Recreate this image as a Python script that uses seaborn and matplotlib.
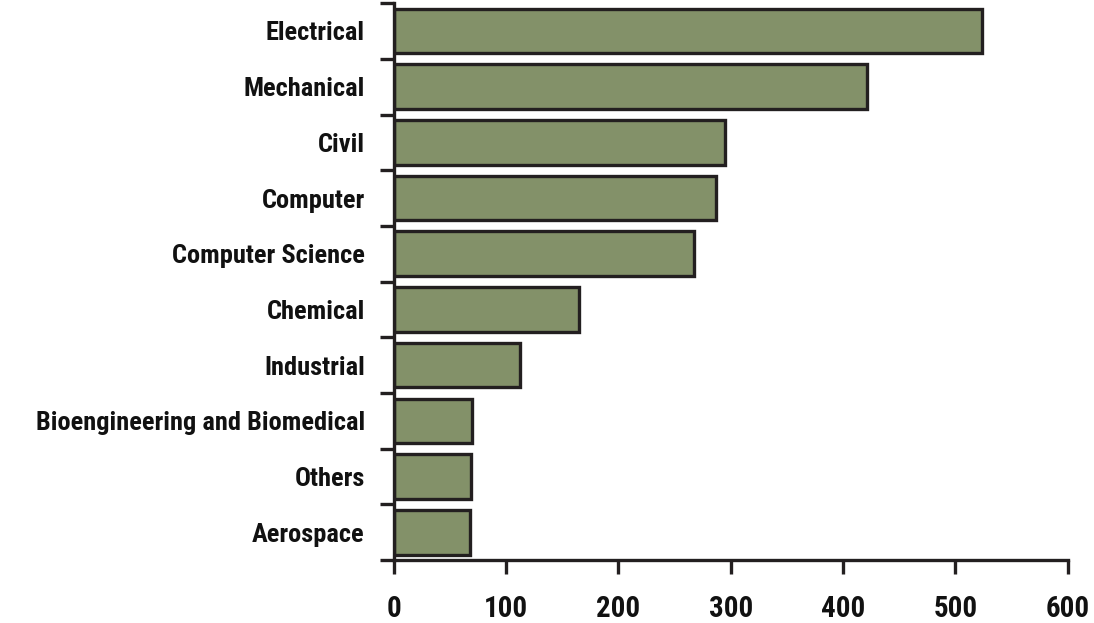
import matplotlib
matplotlib.use('Agg')
import matplotlib.pyplot as plt
from matplotlib import font_manager
import seaborn as sns
import numpy as np
import pandas as pd

# data
majors = ['Electrical', 'Mechanical', 'Civil', 'Computer', 'Computer Science',
          'Chemical', 'Industrial', 'Bioengineering and Biomedical', 'Others', 'Aerospace']
counts = [524, 421, 295, 287, 267, 165, 112, 70, 69, 68]
x_ticks = [0, 100, 200, 300, 400, 500, 600]

df = pd.DataFrame({'Major': majors, 'Count': counts})

sns.set_style('white')

# prefer a narrow face if one is installed
names = {f.name for f in font_manager.fontManager.ttflist}
family = 'DejaVu Sans'
for cand in ['Liberation Sans Narrow', 'Roboto Condensed', 'Open Sans Condensed', 'DejaVu Sans Condensed']:
    if cand in names:
        family = cand
        break
plt.rcParams['font.family'] = [family, 'DejaVu Sans']
stretch = 'condensed'

fig = plt.figure(figsize=(10.94, 6.23), dpi=100)
ax = fig.add_axes([0.360, 0.101, 0.616, 0.894])

sns.barplot(data=df, y='Major', x='Count', orient='h', color='#839169',
            saturation=1, width=0.8, edgecolor='#231f20', linewidth=2.4, ax=ax)

ax.set_xlim(0, 600)
ax.set_ylim(len(majors) - 0.5, -0.5)
ax.set_xticks(x_ticks)
ax.set_xticklabels([str(t) for t in x_ticks], fontsize=20, fontweight='bold',
                   fontstretch=stretch)
ax.set_yticks(np.arange(len(majors)))
ax.set_yticklabels(majors, fontsize=17, fontweight='bold', fontstretch=stretch)
ax.set_yticks(np.arange(len(majors) + 1) - 0.5, minor=True)

ax.tick_params(axis='y', which='major', left=False, length=0, pad=21, colors='#111111')
ax.tick_params(axis='y', which='minor', left=True, length=10, width=2.4,
               color='#231f20', direction='out')
ax.tick_params(axis='x', which='major', bottom=True, length=10, width=2.4,
               color='#231f20', pad=15, direction='out', labelcolor='#111111')

ax.set_xlabel('')
ax.set_ylabel('')
for s in ['top', 'right']:
    ax.spines[s].set_visible(False)
for s in ['left', 'bottom']:
    ax.spines[s].set_linewidth(2.4)
    ax.spines[s].set_color('#231f20')

# size the labels so the longest category fills the left margin like the original
fig.canvas.draw()
r = fig.canvas.get_renderer()
widest = max(t.get_window_extent(r).width for t in ax.get_yticklabels())
ysize = min(19, 17 * 362 / widest)
for t in ax.get_yticklabels():
    t.set_fontsize(ysize)
# keep "600" inside the right edge
w600 = ax.get_xticklabels()[-1].get_window_extent(r).width
xsize = min(22, 20 * 44 / w600)
for t in ax.get_xticklabels():
    t.set_fontsize(xsize)

fig.savefig('out.png', dpi=100)
